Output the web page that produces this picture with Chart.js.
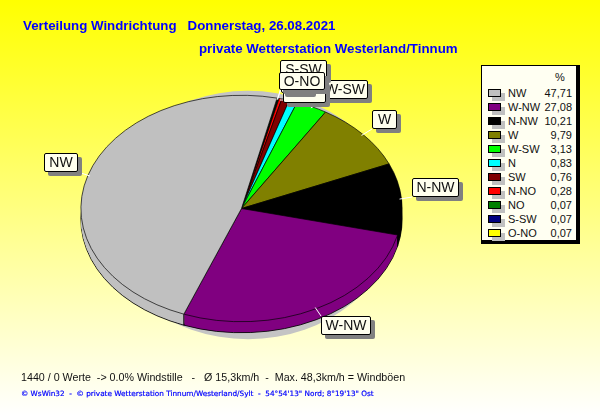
<!DOCTYPE html>
<html><head><meta charset="utf-8">
<script src="https://cdn.jsdelivr.net/npm/chart.js@4"></script>
<style>
html,body{margin:0;padding:0;overflow:hidden}
#stage{position:relative;width:600px;height:415px;background:linear-gradient(#ffff00,#ffffff);font-family:"Liberation Sans",Arial,sans-serif;overflow:hidden}
canvas{position:absolute;left:0;top:0}
.t{position:absolute;white-space:pre;line-height:14px}
.title{color:#0000ff;font-weight:bold;font-size:13.3px}
.lab{position:absolute;box-sizing:border-box;border:1px solid #000;border-radius:2px;background:#ffffee;box-shadow:4px 4px 0 #808080;font-size:14px;color:#111;text-align:center;line-height:17px;white-space:pre;overflow:hidden}
#legend{position:absolute;left:481px;top:65px;width:99px;height:179px;box-sizing:border-box;border:1px solid #000;border-width:1px 4px 4px 1px;background:#fffff2;font-size:11px;color:#111}
.sw{position:absolute;box-sizing:border-box;width:13px;height:8px;border:1px solid #000;box-shadow:4px 4px 0 #c0c0c0}
</style></head><body>
<div id="stage"><canvas id="c" width="600" height="415"></canvas></div>
<script>
// slices in clockwise drawing order
const sliceNames  = ["O-NO","S-SW","NO","N-NO","SW","N","W-SW","W","N-NW","W-NW","NW"];
const sliceValues = [0.07,0.07,0.07,0.28,0.76,0.83,3.13,9.79,10.21,27.08,47.71];
const sliceColors = ["#ffff00","#000080","#008000","#ff0000","#800000","#00ffff","#00ff00","#808000","#000000","#800080","#c0c0c0"];
// legend
const legendNames  = ["NW","W-NW","N-NW","W","W-SW","N","SW","N-NO","NO","S-SW","O-NO"];
const legendValues = ["47,71","27,08","10,21","9,79","3,13","0,83","0,76","0,28","0,07","0,07","0,07"];
// text
const title1 = "Verteilung Windrichtung   Donnerstag, 26.08.2021";
const title2 = "private Wetterstation Westerland/Tinnum";
const foot1 = "1440 / 0 Werte  -> 0.0% Windstille   -   Ø 15,3km/h  -  Max. 48,3km/h = Windböen";
const foot2 = "© WsWin32  -  © private Wetterstation Tinnum/Westerland/Sylt  -  54°54'13\" Nord; 8°19'13\" Ost";
// label boxes, bottom of the stack first: name, left, top, width, height, line anchor x, y
const labelBoxes = [
 ["W-SW",322,80,46,19,327,99],
 ["S-SW",280,60,47,19,283,79],
 ["N-NO",283,80,43,23,285,100],
 ["SW",281,75,31,18,283,93],
 ["W",372,110,25,19,372,129],
 ["N-NW",412,178,47,19,412,197],
 ["W-NW",321,316,50,19,321,316],
 ["NW",44,153,34,19,78,172],
 ["O-NO",279,72,46,18,281,90]
];
const squash = 113.5/161, depth = 11, startAngle = 12.8;

const stage = document.getElementById('stage');
function txt(s,x,y,css,cls){const d=document.createElement('div');d.className='t '+(cls||'');d.textContent=s;d.style.left=x+'px';d.style.top=y+'px';d.style.cssText+=css||'';stage.appendChild(d);return d;}

const elliptic = {
  id:'elliptic',
  beforeDatasetDraw(chart,args){
    const ctx=chart.ctx, arcs=args.meta.data, a0=arcs[0], cx=a0.x, cy=a0.y, R=a0.outerRadius;
    const xf=d=>{ctx.translate(cx,cy+d);ctx.scale(1,squash);ctx.translate(-cx,-cy);};
    // shadow ellipse peeking out at the top and under the wall
    ctx.save();ctx.fillStyle='#c4c4c4';ctx.beginPath();
    ctx.ellipse(cx+6.5,cy+6.5,R*0.92,R*0.773,0,0,Math.PI*2);ctx.fill();ctx.restore();
    // wall: lowest rim with border, then fills
    for(let d=depth;d>=1;d--){
      ctx.save();xf(d);
      arcs.forEach(el=>{
        const o=el.options;
        el.options=Object.assign({},o,{borderWidth:d===depth?1:0,borderColor:d===depth?'#000':o.backgroundColor});
        el.draw(ctx);el.options=o;
      });
      ctx.restore();
    }
    // vertical edges where slices meet on the wall
    ctx.save();ctx.strokeStyle='#000';ctx.lineWidth=1;
    arcs.forEach(el=>{
      const s=Math.sin(el.startAngle),c=Math.cos(el.startAngle);
      if(s>-0.02){const x=cx+R*c,y=cy+R*s*squash;ctx.beginPath();ctx.moveTo(x,y);ctx.lineTo(x,y+depth);ctx.stroke();}
    });
    ctx.restore();
    ctx.save();xf(0);
  },
  afterDatasetDraw(chart,args){
    const ctx=chart.ctx, arcs=args.meta.data;
    ctx.restore();
    // white leader lines
    ctx.save();ctx.strokeStyle='#fff';ctx.lineWidth=1;
    labelBoxes.forEach(b=>{
      const el=arcs[sliceNames.indexOf(b[0])], m=(el.startAngle+el.endAngle)/2;
      ctx.beginPath();ctx.moveTo(el.x+(el.outerRadius-2)*Math.cos(m),el.y+(el.outerRadius-2)*Math.sin(m)*squash);
      ctx.lineTo(b[5],b[6]);ctx.stroke();
    });
    ctx.restore();
  }
};

new Chart(document.getElementById('c'),{
  type:'pie',
  data:{labels:sliceNames,datasets:[{data:sliceValues,backgroundColor:sliceColors,borderColor:'#000',borderWidth:0.8}]},
  options:{responsive:false,animation:false,rotation:startAngle,devicePixelRatio:1,
    layout:{padding:{left:80,right:197,top:47.5,bottom:45.5}},
    events:[],
    plugins:{legend:{display:false},tooltip:{enabled:false},title:{display:false}}},
  plugins:[elliptic]
});

txt(title1,23,19,'','title');
txt(title2,199,42,'','title');
txt(foot1,21,370,'font-size:10.7px;color:#111');
txt(foot2,21,387,'font-family:"DejaVu Sans";font-size:7.3px;color:#0000ff;-webkit-text-stroke:0.2px #0000ff');

labelBoxes.forEach(b=>{const d=document.createElement('div');d.className='lab';d.textContent=b[0];
  d.style.cssText+=`left:${b[1]}px;top:${b[2]}px;width:${b[3]}px;height:${b[4]}px`;stage.appendChild(d);});

const lg=document.createElement('div');lg.id='legend';stage.appendChild(lg);
function lt(s,css){const d=document.createElement('div');d.className='t';d.textContent=s;d.style.cssText+=css;lg.appendChild(d);}
lt('%','left:73px;top:4px');
legendNames.forEach((n,i)=>{
  const y=20+i*14;
  const s=document.createElement('div');s.className='sw';
  s.style.cssText+=`left:6px;top:${3+y}px;background:${sliceColors[sliceNames.indexOf(n)]}`;lg.appendChild(s);
  lt(n,`left:26px;top:${y}px`);
  lt(legendValues[i],`right:4px;top:${y}px`);
});
</script></body></html>
